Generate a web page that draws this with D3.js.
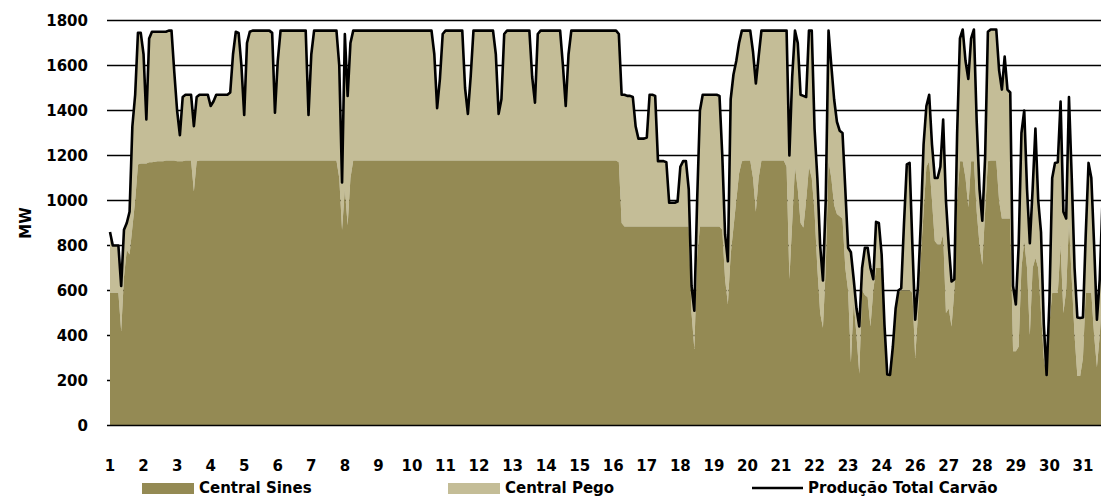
<!DOCTYPE html>
<html><head><meta charset="utf-8">
<script src="https://cdn.jsdelivr.net/npm/d3@7"></script>
<style>
body{margin:0;background:#fff}
svg{display:block}
text{font-family:"DejaVu Sans",sans-serif;font-weight:bold;fill:#000}
</style>
</head><body>
<svg id="chart" width="1101" height="497"></svg>
<script>
// Day labels on the x axis (the source skips 25)
const dayLabels = ["1","2","3","4","5","6","7","8","9","10","11","12","13","14","15","16","17","18","19","20","21","22","23","24","26","27","28","29","30","31"];
const yTicks = [0,200,400,600,800,1000,1200,1400,1600,1800];
const seriesNames = ["Central Sines","Central Pego","Produção Total Carvão"];
const hoursPerPoint = 2;

// Total coal production (MW), one value every 2 hours, 12 per day
const total = [
 860,800,800,800,620,870,900,950,1330,1470,1745,1745,          // 1
 1650,1360,1720,1750,1750,1750,1750,1750,1750,1755,1755,1570,  // 2
 1400,1290,1460,1470,1470,1470,1330,1460,1470,1470,1470,1470,  // 3
 1420,1440,1470,1470,1470,1470,1470,1480,1650,1750,1745,1600,  // 4
 1380,1700,1750,1755,1755,1755,1755,1755,1755,1755,1745,1390,  // 5
 1620,1755,1755,1755,1755,1755,1755,1755,1755,1755,1755,1380,  // 6
 1650,1755,1755,1755,1755,1755,1755,1755,1755,1755,1600,1080,  // 7
 1740,1465,1700,1755,1755,1755,1755,1755,1755,1755,1755,1755,  // 8
 1755,1755,1755,1755,1755,1755,1755,1755,1755,1755,1755,1755,  // 9
 1755,1755,1755,1755,1755,1755,1755,1755,1650,1410,1540,1740,  // 10
 1755,1755,1755,1755,1755,1755,1755,1500,1385,1550,1755,1755,  // 11
 1755,1755,1755,1755,1755,1755,1650,1385,1450,1740,1755,1755,  // 12
 1755,1755,1755,1755,1755,1755,1755,1550,1435,1740,1755,1755,  // 13
 1755,1755,1755,1755,1755,1755,1600,1420,1650,1755,1755,1755,  // 14
 1755,1755,1755,1755,1755,1755,1755,1755,1755,1755,1755,1755,  // 15
 1755,1755,1740,1470,1470,1465,1465,1460,1330,1275,1275,1275,  // 16
 1280,1470,1470,1465,1175,1175,1175,1170,990,990,990,995,      // 17
 1150,1175,1175,1050,620,510,1000,1400,1470,1470,1470,1470,    // 18
 1470,1470,1465,1200,850,730,1450,1560,1620,1700,1755,1755,    // 19
 1755,1755,1660,1520,1640,1755,1755,1755,1755,1755,1755,1755,  // 20
 1755,1755,1755,1200,1550,1755,1700,1470,1465,1460,1755,1755,  // 21
 1320,1100,800,645,1000,1755,1600,1450,1350,1310,1300,1050,    // 22
 790,770,650,520,440,700,790,790,700,650,905,900,              // 23
 760,450,227,225,350,520,600,610,900,1160,1167,800,            // 24
 470,620,900,1250,1420,1470,1250,1100,1100,1150,1360,1000,     // 26
 800,640,650,1300,1720,1760,1620,1540,1720,1760,1350,1050,     // 27
 910,1190,1750,1760,1760,1760,1580,1493,1640,1493,1480,620,    // 28
 538,800,1300,1400,1050,810,1050,1320,1000,860,450,225,        // 29
 550,1100,1167,1170,1440,950,920,1460,1100,700,480,478,        // 30
 480,850,1167,1100,800,470,650,1000                            // 31
];

// Central Sines (MW), same time grid
const sines = [
 590,590,590,590,420,660,780,760,880,1000,1160,1165,           // 1
 1165,1165,1170,1170,1172,1175,1175,1175,1178,1178,1178,1178,  // 2
 1175,1175,1175,1178,1178,1178,1040,1175,1178,1178,1178,1178,  // 3
 1178,1178,1178,1178,1178,1178,1178,1178,1178,1178,1178,1178,  // 4
 1178,1178,1178,1178,1178,1178,1178,1178,1178,1178,1178,1178,  // 5
 1178,1178,1178,1178,1178,1178,1178,1178,1178,1178,1178,1178,  // 6
 1178,1178,1178,1178,1178,1178,1178,1178,1178,1178,1100,870,   // 7
 1050,890,1100,1178,1178,1178,1178,1178,1178,1178,1178,1178,   // 8
 1178,1178,1178,1178,1178,1178,1178,1178,1178,1178,1178,1178,  // 9
 1178,1178,1178,1178,1178,1178,1178,1178,1178,1178,1178,1178,  // 10
 1178,1178,1178,1178,1178,1178,1178,1178,1178,1178,1178,1178,  // 11
 1178,1178,1178,1178,1178,1178,1178,1178,1178,1178,1178,1178,  // 12
 1178,1178,1178,1178,1178,1178,1178,1178,1178,1178,1178,1178,  // 13
 1178,1178,1178,1178,1178,1178,1178,1178,1178,1178,1178,1178,  // 14
 1178,1178,1178,1178,1178,1178,1178,1178,1178,1178,1178,1178,  // 15
 1178,1178,1170,900,885,885,885,885,885,885,885,885,           // 16
 885,885,885,885,885,885,885,885,885,885,885,885,              // 17
 885,885,885,885,500,340,750,885,885,885,885,885,              // 18
 885,885,885,870,650,540,760,880,1000,1120,1175,1178,          // 19
 1178,1178,1100,950,1100,1178,1178,1178,1178,1178,1178,1178,   // 20
 1178,1178,1150,650,900,1150,1050,900,880,1000,1150,1100,      // 21
 950,700,500,435,700,1175,1100,980,940,930,920,700,            // 22
 600,280,550,400,230,600,580,570,440,600,700,700,              // 23
 700,450,227,225,350,520,590,600,600,600,600,590,              // 24
 300,500,750,950,1150,1175,1000,820,805,805,850,500,           // 26
 520,440,600,1000,1175,1175,1100,970,1175,1175,950,805,        // 27
 715,950,1175,1178,1178,1178,1000,920,920,920,920,330,         // 28
 330,350,700,820,700,400,700,745,700,500,300,222,              // 29
 450,590,590,590,800,500,600,900,650,400,220,220,              // 30
 300,590,590,590,400,260,400,600                               // 31
];

const colSines = "#948A54", colPego = "#C4BD97";
const svg = d3.select("#chart");
const x = d3.scaleLinear().domain([0, 720]).range([110, 1116.5]);
const y = d3.scaleLinear().domain([0, 1800]).range([425.5, 20.5]);

const data = total.map((t, i) => ({h: i * hoursPerPoint, t: t, s: sines[i]}));

// gridlines
svg.append("g").selectAll("line").data(yTicks.filter(v => v > 0)).join("line")
  .attr("x1", 107).attr("x2", 1101)
  .attr("y1", d => y(d)).attr("y2", d => y(d))
  .attr("stroke", "#000").attr("stroke-width", 1.3);

// Pego (stacked on top of Sines, up to total)
svg.append("path").datum(data)
  .attr("fill", colPego)
  .attr("d", d3.area().x(d => x(d.h)).y0(d => y(d.s)).y1(d => y(d.t)));
// Sines
svg.append("path").datum(data)
  .attr("fill", colSines)
  .attr("d", d3.area().x(d => x(d.h)).y0(y(0)).y1(d => y(d.s)));
// Total line
svg.append("path").datum(data)
  .attr("fill", "none").attr("stroke", "#000").attr("stroke-width", 2.6)
  .attr("stroke-linejoin", "round")
  .attr("d", d3.line().x(d => x(d.h)).y(d => y(d.t)));

// x axis line
svg.append("line").attr("x1", 107).attr("x2", 1101)
  .attr("y1", y(0)).attr("y2", y(0)).attr("stroke", "#000").attr("stroke-width", 1.5);

// y tick labels
svg.append("g").selectAll("text").data(yTicks).join("text")
  .attr("x", 88).attr("y", d => y(d) + 5.5)
  .attr("text-anchor", "end").attr("font-size", 15).text(d => d);

// x tick labels
svg.append("g").selectAll("text").data(dayLabels).join("text")
  .attr("x", (d, i) => x(i * 24)).attr("y", 471)
  .attr("text-anchor", "middle").attr("font-size", 15).text(d => d);

// y axis title
svg.append("text").attr("transform", "translate(31,223) rotate(-90)")
  .attr("text-anchor", "middle").attr("font-size", 15).text("MW");

// legend
const lg = svg.append("g");
lg.append("rect").attr("x", 142).attr("y", 483).attr("width", 52).attr("height", 11).attr("fill", colSines);
lg.append("text").attr("x", 199).attr("y", 492.5).attr("font-size", 15).text(seriesNames[0]);
lg.append("rect").attr("x", 448).attr("y", 483).attr("width", 52).attr("height", 11).attr("fill", colPego);
lg.append("text").attr("x", 505).attr("y", 492.5).attr("font-size", 15).text(seriesNames[1]);
lg.append("line").attr("x1", 752).attr("x2", 803).attr("y1", 488).attr("y2", 488)
  .attr("stroke", "#000").attr("stroke-width", 2.6);
lg.append("text").attr("x", 808).attr("y", 492.5).attr("font-size", 15).text(seriesNames[2]);
</script>
</body></html>
